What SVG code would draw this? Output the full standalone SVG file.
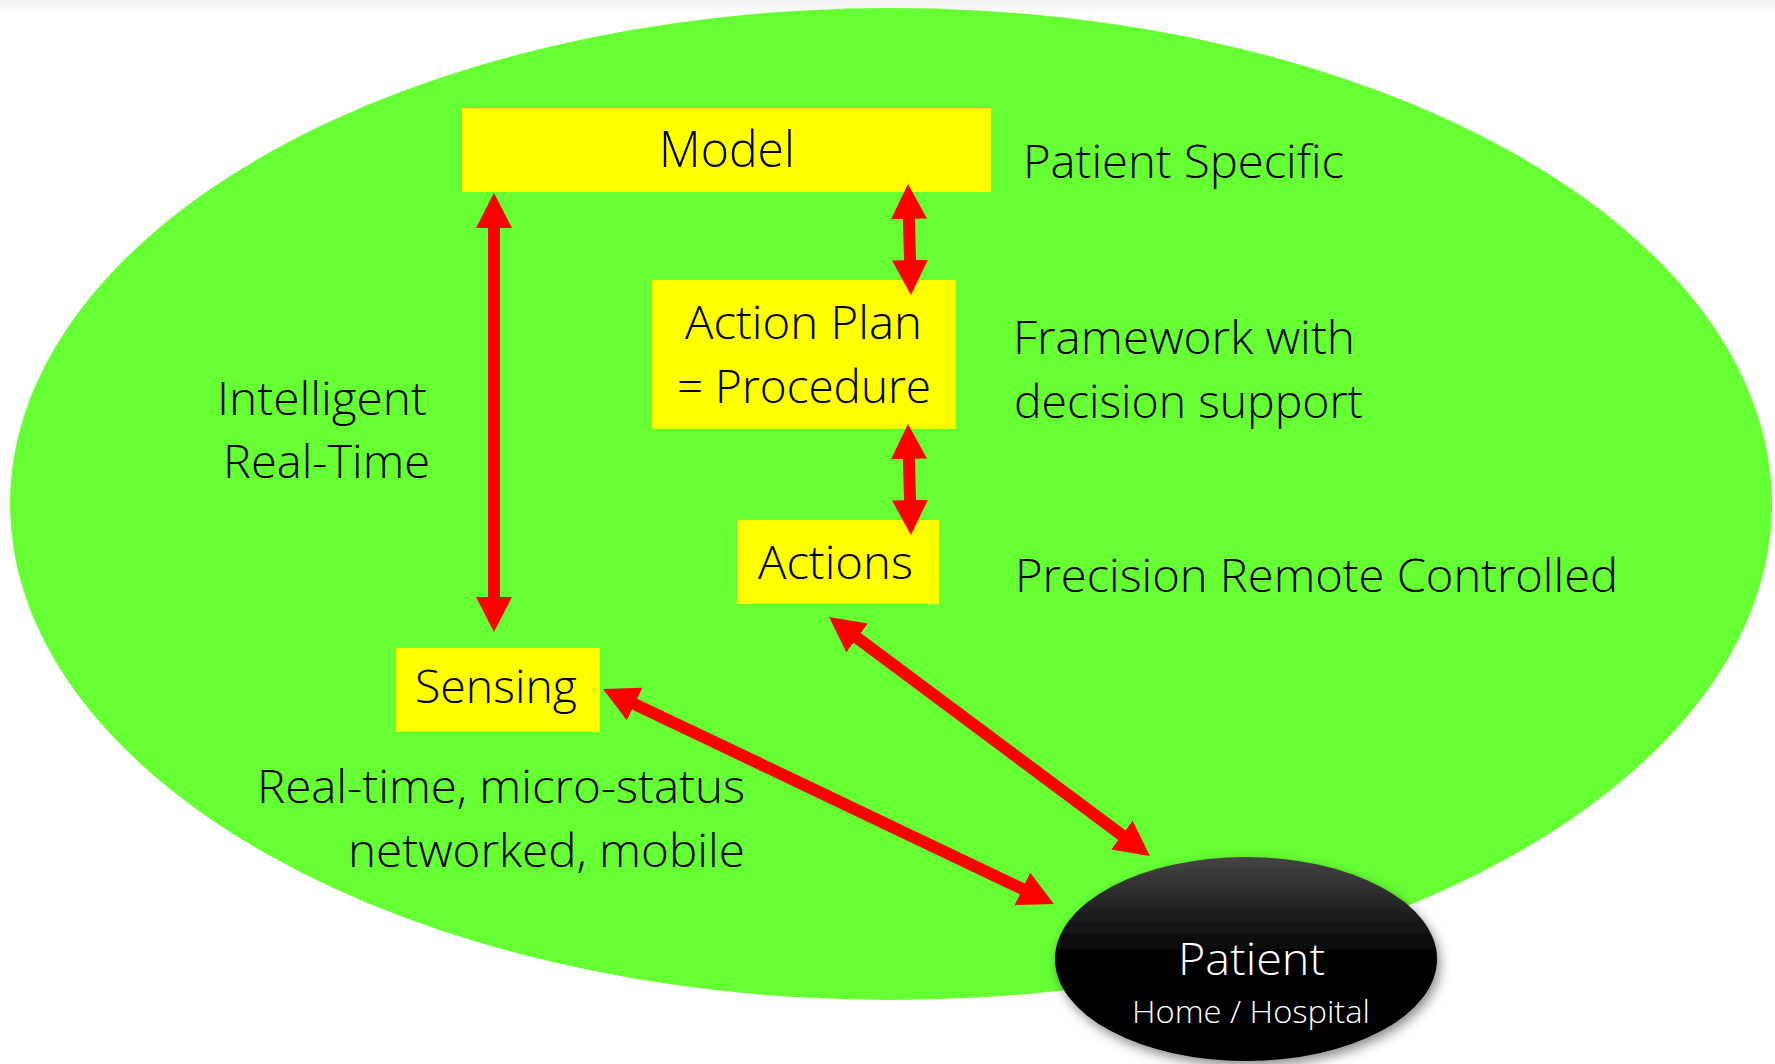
<svg xmlns="http://www.w3.org/2000/svg" width="1775" height="1064" viewBox="0 0 1775 1064">
<style>
.box{fill:#FFFF00;}
.t{font-family:"Open Sans","Noto Sans","Liberation Sans",sans-serif;fill:#000;font-size:46px;font-weight:300;}
.w{fill:#FFFFFF;}
.arr{stroke:#FF0000;stroke-width:12;fill:none;marker-start:url(#ah);marker-end:url(#ah);}
</style>
<defs>
<marker id="ah" markerUnits="userSpaceOnUse" markerWidth="35" markerHeight="36" viewBox="0 0 35 36" refX="10" refY="18" orient="auto-start-reverse">
<path d="M0,0 L35,18 L0,36 Z" fill="#FF0000"/>
</marker>
<linearGradient id="pg" x1="0" y1="0" x2="0" y2="1">
<stop offset="0" stop-color="#454545"/>
<stop offset="0.5" stop-color="#000000"/>
<stop offset="1" stop-color="#000000"/>
</linearGradient>
<linearGradient id="topband" x1="0" y1="0" x2="0" y2="1">
<stop offset="0" stop-color="#f0f0f0"/>
<stop offset="1" stop-color="#ffffff"/>
</linearGradient>
<filter id="sh" x="-20%" y="-20%" width="140%" height="150%">
<feDropShadow dx="3" dy="5" stdDeviation="6" flood-color="#000" flood-opacity="0.45"/>
</filter>
</defs>
<rect x="0" y="0" width="1775" height="1064" fill="#FFFFFF"/>
<rect x="0" y="0" width="1775" height="14" fill="url(#topband)"/>
<g id="background">
<ellipse cx="891" cy="504" rx="881" ry="496" fill="#66FF33"/>
</g>
<g id="model">
<rect class="box" x="462" y="108" width="529" height="84"/>
<text class="t" x="727" y="167" text-anchor="middle" style="font-size:49px" textLength="136" lengthAdjust="spacingAndGlyphs">Model</text>
</g>
<g id="action-plan">
<rect class="box" x="652" y="280" width="304" height="149"/>
<text class="t" x="685" y="339" textLength="237" lengthAdjust="spacingAndGlyphs">Action Plan</text>
<text class="t" x="677" y="403" textLength="254" lengthAdjust="spacingAndGlyphs">= Procedure</text>
</g>
<g id="actions">
<rect class="box" x="737" y="520" width="202" height="84"/>
<text class="t" x="758" y="579" textLength="155" lengthAdjust="spacingAndGlyphs">Actions</text>
</g>
<g id="sensing">
<rect class="box" x="396" y="648" width="204" height="84"/>
<text class="t" x="415" y="703" textLength="162" lengthAdjust="spacingAndGlyphs">Sensing</text>
</g>
<g id="patient">
<ellipse cx="1246" cy="959" rx="191" ry="102" fill="url(#pg)" filter="url(#sh)"/>
<text class="t w" x="1178" y="975" style="font-size:45px" textLength="147" lengthAdjust="spacingAndGlyphs">Patient</text>
<text class="t w" x="1132" y="1023" style="font-size:32px" textLength="238" lengthAdjust="spacingAndGlyphs">Home / Hospital</text>
</g>
<g id="labels">
<text class="t" x="1023" y="178" textLength="321" lengthAdjust="spacingAndGlyphs">Patient Specific</text>
<text class="t" x="1013" y="354" textLength="342" lengthAdjust="spacingAndGlyphs">Framework with</text>
<text class="t" x="1014" y="418" textLength="349" lengthAdjust="spacingAndGlyphs">decision support</text>
<text class="t" x="217" y="415" textLength="210" lengthAdjust="spacingAndGlyphs">Intelligent</text>
<text class="t" x="223" y="478" textLength="207" lengthAdjust="spacingAndGlyphs">Real-Time</text>
<text class="t" x="1015" y="592" textLength="603" lengthAdjust="spacingAndGlyphs">Precision Remote Controlled</text>
<text class="t" x="257" y="803" textLength="488" lengthAdjust="spacingAndGlyphs">Real-time, micro-status</text>
<text class="t" x="348" y="867" textLength="397" lengthAdjust="spacingAndGlyphs">networked, mobile</text>
</g>
<g id="connectors">
<line class="arr" x1="494" y1="218" x2="494" y2="607"/>
<line class="arr" x1="908.7" y1="209" x2="910.3" y2="270"/>
<line class="arr" x1="908.7" y1="449" x2="910.3" y2="510"/>
<line class="arr" x1="625.6" y1="699.8" x2="1031.4" y2="893.2"/>
<line class="arr" x1="849.1" y1="631.9" x2="1129.9" y2="841.1"/>
</g>
</svg>
